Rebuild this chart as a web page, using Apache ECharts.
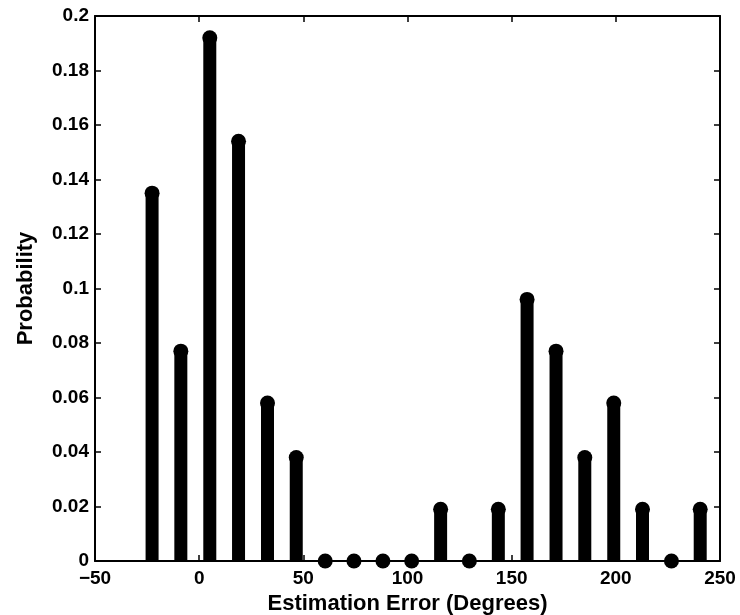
<!DOCTYPE html>
<html><head><meta charset="utf-8">
<script src="https://cdn.jsdelivr.net/npm/echarts@6/dist/echarts.min.js"></script>
<style>html,body{margin:0;padding:0;background:#fff}#c{width:740px;height:615px}</style>
</head><body><div id="c"></div>
<script>
var binCenters = [-22.6, -8.8, 5.1, 18.9, 32.8, 46.6, 60.5, 74.3, 88.2, 102.0, 115.9, 129.7, 143.6, 157.4, 171.3, 185.1, 199.0, 212.8, 226.7, 240.5];
var probabilities = [0.135, 0.077, 0.192, 0.154, 0.058, 0.038, 0, 0, 0, 0, 0.019, 0, 0.019, 0.096, 0.077, 0.038, 0.058, 0.019, 0, 0.019];
var xTicks = {min: -50, max: 250, interval: 50};
var yTicks = {min: 0, max: 0.2, interval: 0.02};
var xTitle = 'Estimation Error (Degrees)';
var yTitle = 'Probability';

var pts = binCenters.map(function(x, i){ return [x, probabilities[i]]; });
var font = '"Liberation Sans", Arial, sans-serif';
var lblStyle = {color: '#000', fontFamily: font, fontWeight: 'bold', fontSize: 19};
var axLine = {show: true, onZero: false, lineStyle: {color: '#000', width: 2}};
var tick = {show: true, inside: true, length: 6, lineStyle: {color: '#000', width: 1.5}};

var chart = echarts.init(document.getElementById('c'));
chart.setOption({
  animation: false,
  grid: {left: 95, right: 20, top: 16, bottom: 54, containLabel: false, outerBoundsMode: 'none'},
  xAxis: [
    {type: 'value', min: xTicks.min, max: xTicks.max, interval: xTicks.interval, position: 'bottom',
     axisLine: axLine, axisTick: tick, splitLine: {show: false},
     axisLabel: Object.assign({margin: 8, formatter: function(v){ return v < 0 ? '\u2212' + (-v) : v; }}, lblStyle),
     name: xTitle, nameLocation: 'middle', nameGap: 27,
     nameTextStyle: {color: '#000', fontFamily: font, fontWeight: 'bold', fontSize: 22}},
    {type: 'value', min: xTicks.min, max: xTicks.max, interval: xTicks.interval, position: 'top',
     axisLine: axLine, axisTick: tick, axisLabel: {show: false}, splitLine: {show: false}}
  ],
  yAxis: [
    {type: 'value', min: yTicks.min, max: yTicks.max, interval: yTicks.interval, position: 'left',
     axisLine: axLine, axisTick: tick, splitLine: {show: false},
     axisLabel: Object.assign({margin: 6, formatter: function(v){ return v === 0 ? '0' : String(+v.toFixed(2)); }}, lblStyle),
     name: yTitle, nameLocation: 'middle', nameGap: 58, nameRotate: 90,
     nameTextStyle: {color: '#000', fontFamily: font, fontWeight: 'bold', fontSize: 22}},
    {type: 'value', min: yTicks.min, max: yTicks.max, interval: yTicks.interval, position: 'right',
     axisLine: axLine, axisTick: tick, axisLabel: {show: false}, splitLine: {show: false}}
  ],
  series: [
    {type: 'custom', xAxisIndex: 0, yAxisIndex: 0, data: pts,
     renderItem: function(params, api){
       var top = api.coord([api.value(0), api.value(1)]);
       var base = api.coord([api.value(0), 0]);
       var w = 13;
       return {type: 'rect', shape: {x: top[0] - w/2, y: top[1], width: w, height: base[1] - top[1]},
               style: {fill: '#000'}};
     }},
    {type: 'scatter', xAxisIndex: 0, yAxisIndex: 0, data: pts, symbol: 'circle', symbolSize: 15,
     itemStyle: {color: '#000', opacity: 1}, z: 3}
  ]
});
</script></body></html>
